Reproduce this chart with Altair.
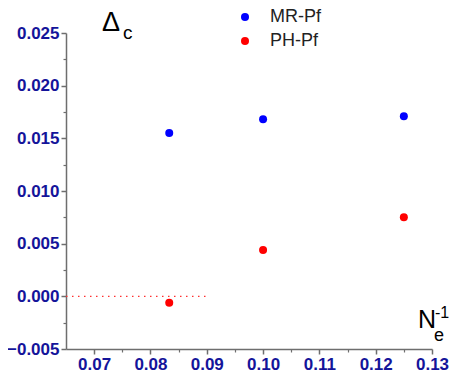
import altair as alt
import pandas as pd

# data
inv_ne = [1/12, 0.10, 0.125]
mr_pf = [0.0155, 0.0168, 0.0171]
ph_pf = [-0.0006, 0.0044, 0.0075]
series = ["MR-Pf", "PH-Pf"]
colors = ["#0000ff", "#ff0000"]

x_major = [0.07, 0.08, 0.09, 0.10, 0.11, 0.12, 0.13]
x_minor = [0.075, 0.085, 0.095, 0.105, 0.115, 0.125]
y_major = [-0.005, 0.0, 0.005, 0.010, 0.015, 0.020, 0.025]
y_minor = [-0.0025, 0.0025, 0.0075, 0.0125, 0.0175, 0.0225]
x_dom = [0.065, 0.13]
y_dom = [-0.005, 0.025]
zero_line = {"x": [0.065], "x2": [0.09], "y": [0.0]}

rows = []
for s, vals in zip(series, [mr_pf, ph_pf]):
    for xv, yv in zip(inv_ne, vals):
        rows.append({"x": xv, "y": yv, "series": s})
df = pd.DataFrame(rows)

FONT = "Liberation Sans"
LBL = "#14149a"
AX = "#6e6e6e"

xs = alt.Scale(domain=x_dom, nice=False, zero=False)
ys = alt.Scale(domain=y_dom, nice=False, zero=False)

def axis_major(orient, vals, fmt):
    return alt.Axis(orient=orient, values=vals, format=fmt, title=None, grid=False,
                    labelFont=FONT, labelFontWeight="bold", labelFontSize=17,
                    labelColor=LBL, tickColor=AX, domainColor=AX, domainWidth=1.5,
                    tickWidth=1.5, tickSize=5, labelPadding=2, labelFlush=False,
                    labelOverlap=False)

def axis_minor(orient, vals):
    return alt.Axis(orient=orient, values=vals, labels=False, title=None, grid=False,
                    domain=False, tickColor=AX, tickWidth=1.2, tickSize=3)

points = alt.Chart(df).mark_circle(size=64, opacity=1).encode(
    x=alt.X("x:Q", scale=xs, axis=axis_major("bottom", x_major, ".2f")),
    y=alt.Y("y:Q", scale=ys, axis=axis_major("left", y_major, ".3f")),
    color=alt.Color("series:N", scale=alt.Scale(domain=series, range=colors),
                    legend=alt.Legend(title=None, orient="none", legendX=170, legendY=-25,
                                      symbolType="circle", symbolSize=64,
                                      labelFont=FONT, labelFontSize=18, labelColor="#222222",
                                      labelOffset=16, rowPadding=6, padding=0)),
)

zl = alt.Chart(pd.DataFrame(zero_line)).mark_rule(
    color="#ff3030", strokeWidth=1.2, strokeDash=[1.5, 4.5]
).encode(
    x=alt.X("x:Q", scale=xs, axis=axis_minor("bottom", x_minor)),
    x2="x2:Q",
    y=alt.Y("y:Q", scale=ys, axis=axis_minor("left", y_minor)),
)

def label(txt, x, y, size):
    return alt.Chart(pd.DataFrame({"t": [txt]})).mark_text(
        align="left", baseline="alphabetic", font=FONT, fontSize=size, color="#000000"
    ).encode(text="t:N", x=alt.value(x), y=alt.value(y))

chart = alt.layer(
    zl, points,
    label("Δ", 36, -2, 27), label("c", 57, 6, 19),
    label("N", 352, 295, 25), label("e", 368, 308, 18), label("-1", 369, 285, 16),
).resolve_axis(x="independent", y="independent").properties(
    width=366, height=316,
    autosize=alt.AutoSizeParams(type="none"),
    padding={"left": 58, "top": 25, "right": 17, "bottom": 25},
).configure_view(stroke=None)

chart.save("out.html", embed_options={"renderer": "svg", "actions": False})
